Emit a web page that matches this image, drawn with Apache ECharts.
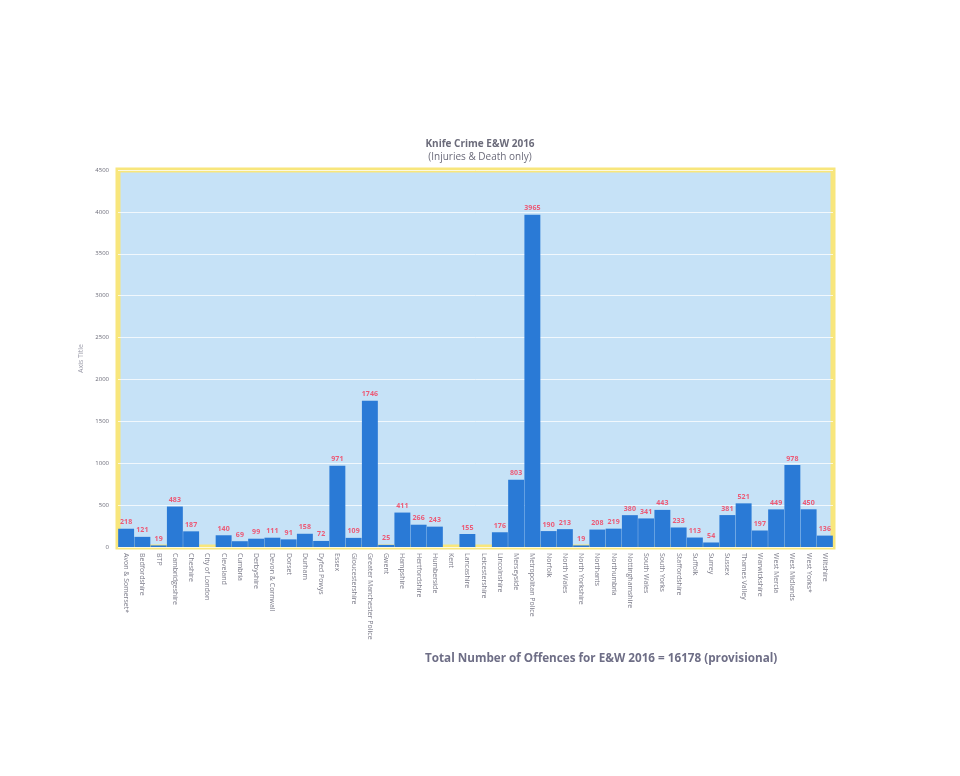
<!DOCTYPE html>
<html><head><meta charset="utf-8">
<script src="https://cdn.jsdelivr.net/npm/echarts@6/dist/echarts.min.js"></script>
<style>html,body{margin:0;padding:0;background:#fff}#c{width:960px;height:776px}</style>
</head><body><div id="c"></div>
<script>
const categories = ["Avon & Somerset*","Bedfordshire","BTP","Cambridgeshire","Cheshire","City of London","Cleveland","Cumbria","Derbyshire","Devon & Cornwall","Dorset","Durham","Dyfed Powys","Essex","Gloucestershire","Greater Manchester Police","Gwent","Hampshire","Hertfordshire","Humberside","Kent","Lancashire","Leicestershire","Lincolnshire","Merseyside","Metropolitan Police","Norfolk","North Wales","North Yorkshire","Northants","Northumbria","Nottinghamshire","South Wales","South Yorks","Staffordshire","Suffolk","Surrey","Sussex","Thames Valley","Warwickshire","West Mercia","West Midlands","West Yorks*","Wiltshire"];
const offences = [218,121,19,483,187,null,140,69,99,111,91,158,72,971,109,1746,25,411,266,243,null,155,null,176,803,3965,190,213,19,208,219,380,341,443,233,113,54,381,521,197,449,978,450,136];
const yTicks = {min:0, max:4500, interval:500};
const titleText = "Knife Crime E&W 2016";
const subtitleText = "(Injuries & Death only)";
const footerText = "Total Number of Offences for E&W 2016 = 16178 (provisional)";

const chart = echarts.init(document.getElementById('c'));
chart.setOption({
  backgroundColor:'#ffffff',
  title:[
    {text:titleText, subtext:subtitleText, left:475, top:134, textAlign:'center', itemGap:3,
     textStyle:{fontFamily:'Open Sans',fontSize:10,fontWeight:'bold',color:'#6b6b7a'},
     subtextStyle:{fontFamily:'Open Sans',fontSize:10,color:'#6b6b7a'}},
    {text:footerText, left:420, top:648,
     textStyle:{fontFamily:'Open Sans',fontSize:11.7,fontWeight:'bold',color:'#6e6e86'}}
  ],
  grid:{left:118,right:127,top:170,height:377,show:true,backgroundColor:'#c6e2f7',borderColor:'#f8e67c',borderWidth:5,containLabel:false},
  xAxis:{type:'category',data:categories,
    axisLine:{show:false},axisTick:{show:false},
    axisLabel:{rotate:-90,interval:0,fontSize:7,color:'#7a7a88',fontFamily:'Open Sans',margin:6}},
  yAxis:{type:'value',min:yTicks.min,max:yTicks.max,interval:yTicks.interval,
    name:'Axis Title',nameLocation:'middle',nameGap:22,nameRotate:90,
    nameTextStyle:{fontSize:7,color:'#9a9aa8',fontFamily:'Open Sans'},
    axisLine:{show:false},axisTick:{show:false},
    axisLabel:{fontSize:6,color:'#6b6b78',fontFamily:'Open Sans',margin:9,formatter:v=>String(v)},
    splitLine:{lineStyle:{color:'rgba(255,255,255,0.75)',width:1}}},
  series:[{type:'bar',data:offences,barCategoryGap:'2%',
    itemStyle:{color:'#2a7ad6'},
    label:{show:true,position:'top',distance:3,fontSize:7,fontWeight:'bold',color:'#ec5a76',fontFamily:'Open Sans'}}]
});
</script></body></html>
